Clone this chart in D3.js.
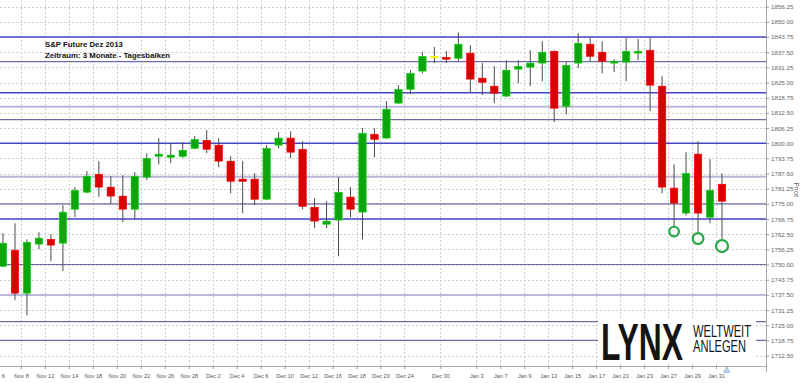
<!DOCTYPE html>
<html>
<head>
<meta charset="utf-8">
<script src="https://cdn.jsdelivr.net/npm/d3@7"></script>
<style>
  body { margin: 0; background: #fff; }
  svg { display: block; font-family: "Liberation Sans", Arial, sans-serif; }
</style>
</head>
<body>
<svg id="chart"></svg>
<script>
// Trading days shown (Nov 6 - Jan 31)
const days = [
  "Nov 6","Nov 7","Nov 8","Nov 11","Nov 12","Nov 13","Nov 14","Nov 15","Nov 18","Nov 19",
  "Nov 20","Nov 21","Nov 22","Nov 25","Nov 26","Nov 27","Nov 28","Nov 29",
  "Dec 2","Dec 3","Dec 4","Dec 5","Dec 6","Dec 9","Dec 10","Dec 11","Dec 12","Dec 13",
  "Dec 16","Dec 17","Dec 18","Dec 19","Dec 20","Dec 23","Dec 24","Dec 26","Dec 27","Dec 30","Dec 31",
  "Jan 2","Jan 3","Jan 6","Jan 7","Jan 8","Jan 9","Jan 10","Jan 13","Jan 14","Jan 15","Jan 16",
  "Jan 17","Jan 20","Jan 21","Jan 22","Jan 23","Jan 24","Jan 27","Jan 28","Jan 29","Jan 30","Jan 31"
];

// OHLC values, one per day
const opens = [
  1749.3,1755.9,1738.2,1758.4,1760.4,1758.8,1772.8,1779.8,1787.2,1781.9,
  1778.2,1772.8,1786.0,1794.6,1794.2,1794.6,1797.9,1801.2,
  1799.2,1792.6,1785.2,1785.2,1776.9,1799.2,1802.1,1797.5,1773.6,1766.6,
  1768.3,1777.8,1771.6,1803.7,1802.1,1816.5,1822.2,1829.7,1835.8,1835.4,1835.0,
  1837.1,1826.8,1823.5,1819.4,1830.5,1831.3,1833.0,1837.9,1815.2,1833.0,1840.8,
  1837.5,1833.0,1833.4,1837.1,1838.3,1823.5,1781.5,1771.2,1795.5,1769.5,1783.1
];
const highs = [
  1762.9,1767.0,1760.4,1763.3,1762.5,1774.5,1781.9,1788.5,1792.6,1786.4,
  1786.8,1788.1,1795.9,1802.1,1800.0,1800.4,1802.9,1805.4,
  1802.1,1794.6,1792.6,1787.6,1799.2,1804.5,1804.9,1800.8,1777.3,1776.1,
  1786.0,1781.9,1806.2,1806.2,1817.3,1823.9,1830.1,1837.5,1839.6,1837.9,1845.7,
  1840.4,1833.0,1831.7,1834.2,1834.2,1838.3,1842.0,1838.3,1833.4,1845.3,1843.3,
  1842.0,1834.6,1843.3,1842.9,1843.3,1827.6,1791.3,1796.3,1800.8,1793.4,1787.6
];
const lows = [
  1748.9,1735.3,1729.1,1756.3,1751.4,1747.3,1769.5,1779.4,1777.8,1774.9,
  1767.5,1768.7,1784.8,1791.3,1791.8,1793.8,1797.5,1795.9,
  1790.1,1779.4,1771.2,1774.5,1776.5,1797.9,1793.8,1772.8,1765.0,1765.0,
  1753.4,1769.5,1760.4,1794.2,1801.8,1816.2,1820.2,1828.8,1833.0,1833.0,1833.8,
  1821.0,1819.8,1816.5,1819.0,1824.7,1823.5,1825.5,1808.7,1811.9,1830.9,1833.8,
  1828.8,1829.3,1825.5,1834.2,1813.2,1779.4,1765.8,1770.3,1763.3,1767.0,1760.0
];
const closes = [
  1758.8,1738.2,1759.2,1760.9,1758.0,1771.6,1780.6,1786.4,1781.9,1778.2,
  1772.8,1786.4,1793.8,1795.5,1795.1,1797.1,1801.6,1797.5,
  1792.6,1784.3,1784.3,1776.9,1797.9,1802.1,1796.3,1774.0,1767.9,1767.9,
  1779.8,1772.8,1804.1,1801.6,1814.0,1822.2,1828.8,1835.8,1835.8,1834.6,1840.8,
  1826.4,1825.1,1820.6,1830.1,1831.7,1833.0,1837.5,1814.4,1832.1,1841.2,1835.8,
  1833.8,1833.8,1837.9,1837.9,1823.9,1781.9,1775.3,1787.6,1771.2,1780.6,1776.1
];

// Horizontal support / resistance lines
const levelPrices = [1843.75, 1833.6, 1820.8, 1815.0, 1809.7, 1800.0, 1786.2, 1775.0, 1768.75, 1750.0, 1737.5, 1726.5, 1718.75];
const levelKinds  = ["strong","weak","strong","light","weak","strong","light","weak","strong","weak","light","weak","weak"];

// Circled lows
const markDays   = ["Jan 27", "Jan 29", "Jan 31"];
const markPrices = [1763.6, 1760.7, 1757.6];

// Axis labels
const xLabels = ["Nov 6","Nov 8","Nov 12","Nov 14","Nov 18","Nov 20","Nov 22","Nov 26","Nov 28",
  "Dec 2","Dec 4","Dec 6","Dec 10","Dec 12","Dec 16","Dec 18","Dec 20","Dec 24","Dec 30",
  "Jan 3","Jan 7","Jan 9","Jan 13","Jan 15","Jan 17","Jan 21","Jan 23","Jan 27","Jan 29","Jan 31"];
const yTicks = [1712.5,1718.75,1725,1731.25,1737.5,1743.75,1750,1756.25,1762.5,1768.75,1775,1781.25,
  1787.5,1793.75,1800,1806.25,1812.5,1818.75,1825,1831.25,1837.5,1843.75,1850,1856.25];

const width = 800;
const height = 383;
const plotRight = 766;
const plotBottom = 366;

const svg = d3.select("#chart")
    .attr("width", width)
    .attr("height", height);

svg.append("rect").attr("width", width).attr("height", height).attr("fill", "#fff");

const x = d3.scaleBand().domain(days).range([-3, 728]);
const xTick = d3.scalePoint().domain(days).range([-3, -3 + x.step() * (days.length - 1)]);
const y = d3.scaleLinear().domain([1708.2, 1859.0]).range([plotBottom, 0]);

const candles = days.map((d, i) => ({
    day: d, open: opens[i], high: highs[i], low: lows[i], close: closes[i]
}));

// Grid
const grid = svg.append("g");
grid.selectAll("line.h")
    .data(yTicks)
    .enter().append("line")
    .attr("x1", 0).attr("x2", plotRight)
    .attr("y1", d => Math.round(y(d)) + 0.5).attr("y2", d => Math.round(y(d)) + 0.5)
    .attr("stroke", "#cfcfcf").attr("stroke-dasharray", "2,2");
grid.selectAll("line.v")
    .data(xLabels)
    .enter().append("line")
    .attr("y1", 0).attr("y2", plotBottom)
    .attr("x1", d => Math.round(xTick(d)) + 0.5).attr("x2", d => Math.round(xTick(d)) + 0.5)
    .attr("stroke", "#cfcfcf").attr("stroke-dasharray", "2,2");

// Support / resistance levels
const levelStyle = {
    strong: { color: "#4646c4", w: 1.6 },
    weak:   { color: "#6c6ca6", w: 1.1 },
    light:  { color: "#b6bad8", w: 2 }
};
svg.append("g").selectAll("line")
    .data(levelPrices)
    .enter().append("line")
    .attr("x1", 0).attr("x2", plotRight)
    .attr("y1", d => y(d)).attr("y2", d => y(d))
    .attr("stroke", (d, i) => levelStyle[levelKinds[i]].color)
    .attr("stroke-width", (d, i) => levelStyle[levelKinds[i]].w);

// Candles
const bodyW = x.bandwidth() * 0.62;
const cg = svg.append("g");
cg.selectAll("line")
    .data(candles)
    .enter().append("line")
    .attr("x1", d => x(d.day) + x.bandwidth() / 2)
    .attr("x2", d => x(d.day) + x.bandwidth() / 2)
    .attr("y1", d => y(d.high))
    .attr("y2", d => y(d.low))
    .attr("stroke", "#4a4a4a")
    .attr("stroke-width", 1);

function candleColor(d) {
    if (d.close > d.open) return "#0da50d";
    if (d.close < d.open) return "#d80000";
    return "#f0e000";
}

cg.selectAll("rect")
    .data(candles)
    .enter().append("rect")
    .attr("x", d => x(d.day) + (x.bandwidth() - bodyW) / 2)
    .attr("width", bodyW)
    .attr("y", d => y(Math.max(d.open, d.close)))
    .attr("height", d => Math.max(1.5, Math.abs(y(d.open) - y(d.close))))
    .attr("fill", candleColor)
    .attr("stroke", d => d3.color(candleColor(d)).brighter(0.8))
    .attr("stroke-width", 0.6);

// Circled lows
svg.append("g").selectAll("circle")
    .data(markDays)
    .enter().append("circle")
    .attr("cx", d => x(d) + x.bandwidth() / 2)
    .attr("cy", (d, i) => y(markPrices[i]))
    .attr("r", (d, i) => 4.8 + i * 0.6)
    .attr("fill", "none")
    .attr("stroke", "#27aa46")
    .attr("stroke-width", 2.2);

// Logo
const logo = svg.append("g")
    .attr("font-family", "'Liberation Sans Narrow', 'Liberation Sans', Arial, sans-serif")
    .attr("fill", "#141414");
logo.append("rect")
    .attr("x", 598).attr("y", 320).attr("width", 158).attr("height", 43)
    .attr("fill", "#fff");
logo.append("text")
    .attr("x", 601).attr("y", 360)
    .attr("font-weight", "bold")
    .attr("font-size", 51)
    .attr("textLength", 82)
    .attr("lengthAdjust", "spacingAndGlyphs")
    .text("LYNX");
logo.append("text")
    .attr("x", 693).attr("y", 337)
    .attr("font-size", 16.5)
    .attr("textLength", 58)
    .attr("lengthAdjust", "spacingAndGlyphs")
    .text("WELTWEIT");
logo.append("text")
    .attr("x", 693).attr("y", 352)
    .attr("font-size", 16.5)
    .attr("textLength", 53)
    .attr("lengthAdjust", "spacingAndGlyphs")
    .text("ANLEGEN");

// Axes
const yAxis = svg.append("g")
    .attr("transform", `translate(${plotRight},0)`)
    .call(d3.axisRight(y).tickValues(yTicks).tickSize(3).tickPadding(2).tickFormat(d3.format(".2f")));
yAxis.select(".domain").remove();
yAxis.selectAll("line").attr("stroke", "#999");
yAxis.selectAll("text").attr("fill", "#666").attr("font-size", 6.2)
    .attr("font-family", "'Liberation Sans', Arial, sans-serif");

const xAxis = svg.append("g")
    .attr("transform", `translate(0,${plotBottom})`)
    .call(d3.axisBottom(xTick).tickValues(xLabels).tickSize(3).tickPadding(5));
xAxis.select(".domain").remove();
xAxis.selectAll("line").attr("stroke", "#999");
xAxis.selectAll("text").attr("fill", "#555").attr("font-size", 5.6)
    .attr("font-family", "'Liberation Sans', Arial, sans-serif");

svg.append("line")
    .attr("x1", 0).attr("x2", plotRight + 0.5)
    .attr("y1", plotBottom + 0.5).attr("y2", plotBottom + 0.5)
    .attr("stroke", "#a8a8a8");
svg.append("line")
    .attr("x1", plotRight + 0.5).attr("x2", plotRight + 0.5)
    .attr("y1", 0).attr("y2", plotBottom + 6)
    .attr("stroke", "#a8a8a8");

svg.append("text")
    .attr("transform", `translate(794,190) rotate(90)`)
    .attr("text-anchor", "middle")
    .attr("font-size", 6.5)
    .attr("fill", "#666")
    .text("Price");

// small navigator marker under last bar
svg.append("path")
    .attr("d", d3.symbol(d3.symbolTriangle, 18)())
    .attr("transform", `translate(${x(days[days.length - 1]) + x.bandwidth() * 0.9},${plotBottom + 4.5})`)
    .attr("fill", "#b8d4ee")
    .attr("stroke", "#7aa6cf")
    .attr("stroke-width", 0.6);

// Title
const title = svg.append("g").attr("font-weight", "bold").attr("font-size", 7.8).attr("fill", "#111");
title.append("text").attr("x", 45).attr("y", 47).text("S&P Future Dez 2013");
title.append("text").attr("x", 45).attr("y", 58).text("Zeitraum: 3 Monate - Tagesbalken");
</script>
</body>
</html>
